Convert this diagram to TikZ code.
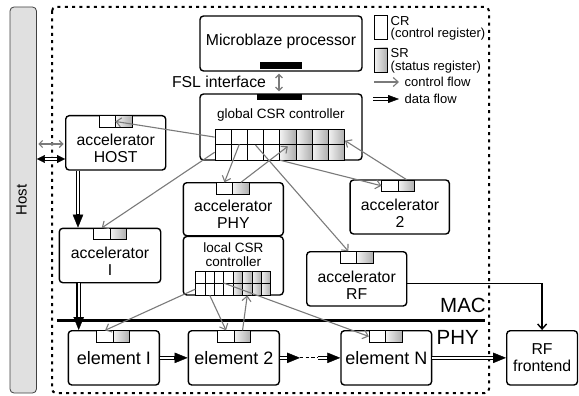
\documentclass[tikz,border=0pt]{standalone}
\usepackage{fontspec}
\setmainfont{Liberation Sans}
\usetikzlibrary{arrows.meta,calc}
\newcommand{\RegPair}[3]{%
  \node[crcell] (#1cr) at (#2-8.25,#3+5.75) {};
  \node[srcell] (#1sr) at (#2+8.25,#3+5.75) {};
}
\begin{document}
\begin{tikzpicture}[x=1pt,y=-1pt,
  box/.style={draw, line width=1.4pt, rounded corners=3.5pt, fill=white, inner sep=0pt},
  crcell/.style={draw, line width=0.75pt, fill=white, inner sep=0pt, minimum width=16.5pt, minimum height=11.5pt},
  srcell/.style={crcell, left color=black!5, right color=black!32},
  lbl/.style={inner sep=1pt, font=\fontsize{15.8}{17}\selectfont, align=center},
  midtxt/.style={inner sep=1pt, font=\fontsize{13.5}{14.5}\selectfont, align=center},
  smltxt/.style={inner sep=0.5pt, font=\fontsize{13}{14}\selectfont},
  eltxt/.style={inner sep=1pt, font=\fontsize{18}{20}\selectfont},
  bigtxt/.style={inner sep=0pt, font=\fontsize{20.5}{22}\selectfont},
  ctrl/.style={draw=black!52, line width=1.1pt, -{Straight Barb[length=5pt,width=9pt]}},
  ctrlboth/.style={draw=black!52, line width=1.1pt, {Straight Barb[length=3.5pt,width=7pt]}-{Straight Barb[length=3.5pt,width=7pt]}},
  dataarrow/.style n args={2}{draw=none,
    postaction={draw=black, line width=0.4pt, -{Triangle[length=#1,width=#2]}},
    postaction={draw=black, line width=4.6pt, shorten >=#1-1pt},
    postaction={draw=white, line width=2.4pt, shorten >=#1+0.3pt}},
  data/.style={dataarrow={13pt}{10.5pt}},
  databoth/.style={draw=none,
    postaction={draw=black, line width=0.4pt, {Triangle[length=8pt,width=8pt]}-{Triangle[length=8pt,width=8pt]}},
    postaction={draw=black, line width=4.4pt, shorten >=7pt, shorten <=7pt},
    postaction={draw=white, line width=2.2pt, shorten >=8.3pt, shorten <=8.3pt}}
]
\useasboundingbox (0,0) rectangle (579,396);

% Host bar
\node[draw=black!75, line width=0.8pt, fill=black!12, rounded corners=4pt, minimum width=26.5pt, minimum height=386pt, inner sep=0pt] (hostbar) at (23.25,200) {};
\node[rotate=90, inner sep=0pt, font=\fontsize{15}{15}\selectfont] (hostlabel) at (21.5,200) {Host};

% boundary
\draw[line width=2pt, dash pattern=on 3pt off 4.3pt, rounded corners=4pt] (52,7) rectangle (489,393);

% Microblaze
\node[box, minimum width=162pt, minimum height=55pt] (mb) at (281,43.5) {};
\node[lbl] (mbtxt) at (281,41) {Microblaze processor};
\node[fill=black, inner sep=0pt, minimum width=42pt, minimum height=7pt] (mbbar) at (281,65.5) {};

% global CSR controller
\node[box, minimum width=162pt, minimum height=66pt] (gcsr) at (281,127) {};
\node[fill=black, inner sep=0pt, minimum width=45pt, minimum height=6pt] (gbar) at (279.5,97) {};
\node[midtxt] (gtxt) at (281,115) {global CSR controller};
\foreach \r in {1,2}{
  \foreach \c in {1,...,4}{
    \node[crcell, minimum width=16.2pt, minimum height=15.2pt] (g\r\c) at ({215+16.2*(\c-0.5)},{129.5+15.2*(\r-0.5)}) {};
  }
  \foreach \c in {5,...,8}{
    \node[srcell, minimum width=16.2pt, minimum height=15.2pt] (g\r\c) at ({215+16.2*(\c-0.5)},{129.5+15.2*(\r-0.5)}) {};
  }
}

\node[lbl] (fsl) at (219,81.5) {FSL interface};

% legend
\node[crcell, minimum width=13.4pt, minimum height=24pt] (lgcr) at (381,27) {};
\node[srcell, minimum width=13.4pt, minimum height=24pt] (lgsr) at (381,60) {};
\node[smltxt, anchor=west] (lgcrt) at (390,21) {CR};
\node[smltxt, anchor=west] (lgcrd) at (390,34.5) {(control register)};
\node[smltxt, anchor=west] (lgsrt) at (390,53) {SR};
\node[smltxt, anchor=west] (lgsrd) at (390,67) {(status register)};
\coordinate (lca) at (374,82);
\coordinate (lcb) at (399,82);
\draw[ctrl] (lca) -- (lcb);
\node[smltxt, anchor=west] (lct) at (404,82) {control flow};
\coordinate (lda) at (373,99);
\coordinate (ldb) at (399,99);
\draw[dataarrow={11pt}{8pt}] (lda) -- (ldb);
\node[smltxt, anchor=west] (ldt) at (404,99) {data flow};

% accelerators
\node[box, minimum width=100pt, minimum height=54.3pt] (host) at (115.7,142.85) {};
\RegPair{host}{115.7}{115.7}
\node[lbl] (hosttxt) at (115.7,148) {accelerator\\HOST};

\node[box, minimum width=101.4pt, minimum height=54.4pt] (accI) at (110,255.5) {};
\RegPair{accI}{110}{228.3}
\node[lbl] (accItxt) at (110,261.5) {accelerator\\I};

\node[box, minimum width=100pt, minimum height=53pt] (phy) at (233.3,209.2) {};
\RegPair{phy}{232.7}{182.7}
\node[lbl] (phytxt) at (233.3,214.5) {accelerator\\PHY};

\node[box, minimum width=100pt, minimum height=58.5pt] (loc) at (233.3,265.75) {};
\node[midtxt] (loctxt) at (233.3,254.5) {local CSR\\controller};
\foreach \r in {1,2}{
  \foreach \c in {1,...,4}{
    \node[crcell, minimum width=9.375pt, minimum height=11.65pt] (lg\r\c) at ({195.7+9.375*(\c-0.5)},{271.7+11.65*(\r-0.5)}) {};
  }
  \foreach \c in {5,...,8}{
    \node[srcell, minimum width=9.375pt, minimum height=11.65pt] (lg\r\c) at ({195.7+9.375*(\c-0.5)},{271.7+11.65*(\r-0.5)}) {};
  }
}

\node[box, minimum width=99.3pt, minimum height=54pt] (acctwo) at (399.7,207) {};
\RegPair{acctwo}{398.3}{180}
\node[lbl] (acctwotxt) at (400,213.5) {accelerator\\2};

\node[box, minimum width=100pt, minimum height=54.3pt] (rf) at (356.7,278.85) {};
\RegPair{rf}{356.7}{251.7}
\node[lbl] (rftxt) at (356.7,285) {accelerator\\RF};

% MAC / PHY
\coordinate (macl) at (57,320);
\coordinate (macr) at (485,320);
\draw[line width=3pt] (macl) -- (macr);
\node[bigtxt, anchor=base east] (mactxt) at (486,312.5) {MAC};
\node[bigtxt, anchor=base west] (phytxt2) at (436.5,344) {PHY};

% elements
\node[box, minimum width=91pt, minimum height=54.3pt] (elI) at (113.8,357.85) {};
\RegPair{elI}{113.3}{330.7}
\node[eltxt] (elItxt) at (113.8,358) {element I};

\node[box, minimum width=91pt, minimum height=54.3pt] (elII) at (233.8,357.85) {};
\RegPair{elII}{234.3}{330.7}
\node[eltxt] (elIItxt) at (233.8,358) {element 2};

\node[box, minimum width=90.7pt, minimum height=54.3pt] (elN) at (386.3,357.85) {};
\RegPair{elN}{385.7}{330.7}
\node[eltxt] (elNtxt) at (386.3,358) {element N};

\node[box, minimum width=70.8pt, minimum height=54.3pt] (rffe) at (542.1,357.85) {};
\node[lbl] (rffetxt) at (542.1,357.5) {RF\\frontend};

% data flow
\draw[ctrlboth, shorten <=1.5pt, shorten >=1.5pt] (hostbar.east |- 0,144) -- (host.west |- 0,144);
\draw[databoth] (hostbar.east |- 0,159) -- (host.west |- 0,159);
\draw[data] (host.south -| 78,0) -- (accI.north -| 78,0);
\draw[data] (accI.south -| 78.7,0) -- (elI.north -| 78.7,0);
\draw[data] (elI.east) -- (elII.west);
\coordinate (dd1) at (300,357.85);
\coordinate (dd2) at (318,357.85);
\draw[data] (elII.east) -- (dd1);
\draw[line width=1.1pt, dash pattern=on 3.3pt off 2.3pt] (dd1) -- (dd2);
\draw[data] (dd2) -- (elN.west);
\draw[data] (elN.east) -- (rffe.west);
\draw[line width=1.4pt, -{Straight Barb[length=5pt,width=9pt]}] (rf.east |- 0,283.3) -| (rffe.north);

% control flow
\draw[ctrlboth, shorten <=2pt, shorten >=2pt] (mb.south -| 279,0) -- (gcsr.north -| 279,0);
\draw[ctrl] (g11.west) -- (hostsr.west);
\draw[ctrl] (g21.west) -- (accIcr.north);
\draw[ctrl] (g22.north) -- (phycr.north);
\draw[ctrl] (physr.north) -- ($(g25.north)+(0,2)$);
\draw[ctrl] (g24.south east) -- (acctwocr.west);
\draw[ctrl] (acctwosr.north) -- ($(g18.east)+(0,3.5)$);
\draw[ctrl] (g13.south) -- (rfcr.north);
\draw[ctrl] (lg21.west) -- (elIcr.north);
\draw[ctrl] (lg22.south) -- (elIIcr.north);
\draw[ctrl] (elIIsr.north) -- (lg26.south);
\draw[ctrl] (lg24.north west) -- (elNcr.west);
\end{tikzpicture}
\end{document}
